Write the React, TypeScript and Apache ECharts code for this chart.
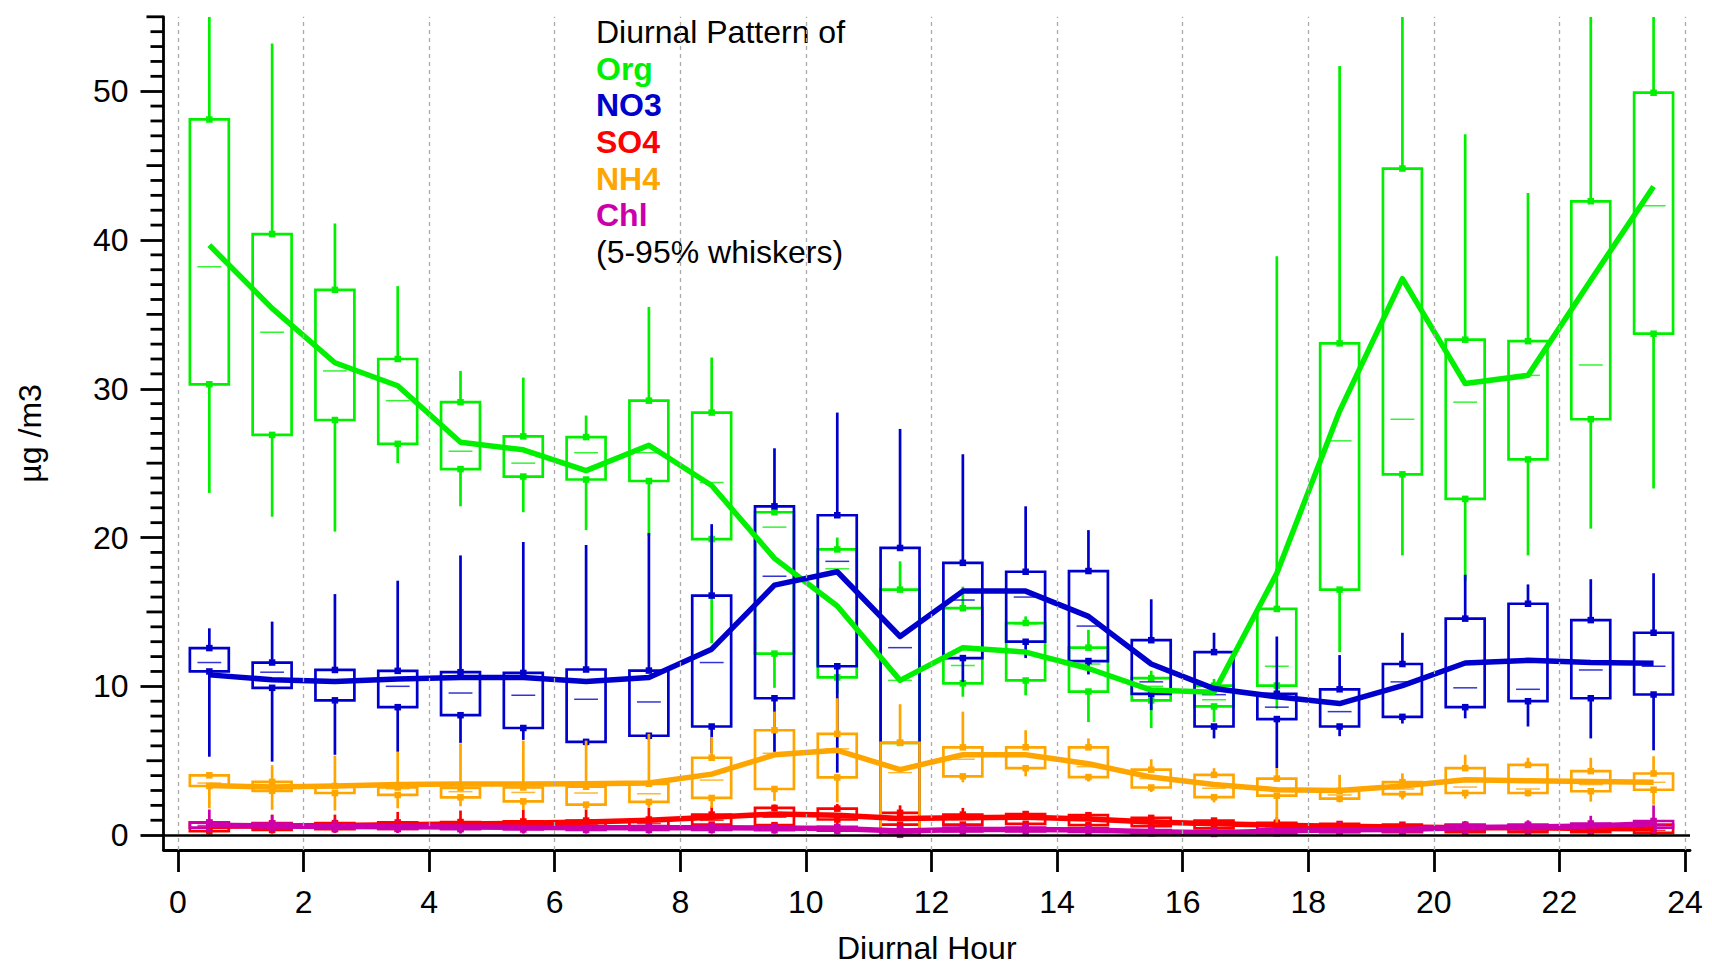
import React, { useEffect, useRef } from "react";
import * as echarts from "echarts";

const HOURS = [0.5, 1.5, 2.5, 3.5, 4.5, 5.5, 6.5, 7.5, 8.5, 9.5, 10.5, 11.5, 12.5, 13.5, 14.5, 15.5, 16.5, 17.5, 18.5, 19.5, 20.5, 21.5, 22.5, 23.5];
const X_TICKS = [0, 2, 4, 6, 8, 10, 12, 14, 16, 18, 20, 22, 24];
const Y_MAJOR = [0, 10, 20, 30, 40, 50];
const Y_MID = [5, 15, 25, 35, 45, 55];
const Y_MINOR = [1, 2, 3, 4, 6, 7, 8, 9, 11, 12, 13, 14, 16, 17, 18, 19, 21, 22, 23, 24, 26, 27, 28, 29, 31, 32, 33, 34, 36, 37, 38, 39, 41, 42, 43, 44, 46, 47, 48, 49, 51, 52, 53, 54];

// Org
const ORG_P5 = [23.0, 21.4, 20.4, 25.0, 22.1, 21.7, 20.5, 20.1, 12.9, 9.9, 9.5, 6.0, 9.3, 9.4, 7.6, 7.2, 7.6, 8.5, 12.3, 18.8, 17.1, 18.8, 20.6, 23.3];
const ORG_P25 = [30.3, 26.9, 27.9, 26.3, 24.6, 24.1, 23.9, 23.8, 19.9, 12.2, 10.6, 6.2, 10.2, 10.4, 9.65, 9.05, 8.65, 10.05, 16.5, 24.25, 22.6, 25.25, 27.95, 33.7];
const ORG_MED = [38.2, 33.8, 31.2, 29.2, 25.8, 25.0, 25.7, 25.7, 23.7, 20.7, 17.9, 10.4, 11.4, 14.2, 11.5, 10.0, 9.1, 11.35, 26.5, 27.95, 29.1, 30.9, 31.6, 42.3];
const ORG_P75 = [48.1, 40.4, 36.65, 32.0, 29.1, 26.8, 26.75, 29.2, 28.4, 21.7, 19.2, 16.5, 15.25, 14.25, 12.6, 10.55, 10.05, 15.2, 33.05, 44.8, 33.3, 33.2, 42.6, 49.9];
const ORG_P95 = [60, 53.2, 41.1, 36.9, 31.2, 30.75, 28.2, 35.5, 32.1, 22.5, 20.0, 18.4, 16.7, 14.7, 13.8, 11.05, 10.5, 38.9, 51.7, 60, 47.1, 43.15, 60, 60];
const ORG_MEAN = [39.65, 35.4, 31.75, 30.2, 26.4, 25.9, 24.5, 26.2, 23.5, 18.6, 15.4, 10.4, 12.6, 12.3, 11.2, 9.75, 9.6, 17.6, 28.5, 37.4, 30.35, 30.9, 37.3, 43.6];

// NO3
const NO3_P5 = [5.27, 4.94, 5.4, 5.6, 6.2, 6.4, 6.0, 6.4, 5.5, 5.6, 4.2, 0.1, 10.3, 11.9, 10.8, 8.4, 6.5, 4.5, 6.65, 7.5, 7.85, 7.3, 6.5, 5.7];
const NO3_P25 = [11.0, 9.9, 9.06, 8.6, 8.06, 7.2, 6.27, 6.68, 7.3, 9.2, 11.35, 0.3, 11.9, 13.0, 11.7, 9.5, 7.3, 7.8, 7.3, 7.95, 8.6, 9.0, 9.2, 9.45];
const NO3_MED = [11.6, 10.95, 10.4, 10.0, 9.55, 9.4, 9.13, 8.95, 11.6, 17.4, 18.4, 12.6, 15.8, 16.0, 14.05, 10.3, 9.44, 8.6, 8.3, 10.3, 9.9, 9.8, 11.1, 11.35];
const NO3_P75 = [12.57, 11.6, 11.1, 11.04, 10.95, 10.9, 11.13, 11.06, 16.1, 22.1, 21.5, 19.3, 18.3, 17.7, 17.75, 13.1, 12.3, 9.5, 9.8, 11.5, 14.55, 15.55, 14.45, 13.6];
const NO3_P95 = [13.9, 14.35, 16.2, 17.1, 18.8, 19.7, 19.5, 20.3, 20.9, 26.0, 28.4, 27.3, 25.6, 22.1, 20.5, 15.85, 13.6, 13.35, 12.1, 13.6, 17.5, 16.85, 17.2, 17.6];
const NO3_MEAN = [10.77, 10.44, 10.33, 10.5, 10.6, 10.6, 10.33, 10.6, 12.5, 16.8, 17.7, 13.35, 16.4, 16.4, 14.7, 11.5, 9.85, 9.3, 8.84, 10.05, 11.57, 11.75, 11.6, 11.55];

// SO4
const SO4_P5 = [0.05, 0.1, 0.15, 0.15, 0.15, 0.15, 0.15, 0.2, 0.3, 0.4, 0.5, 0.3, 0.5, 0.5, 0.5, 0.4, 0.3, 0.1, 0.05, 0.05, 0.05, 0.05, 0.0, 0.0];
const SO4_P25 = [0.27, 0.35, 0.4, 0.42, 0.45, 0.48, 0.5, 0.55, 0.71, 0.67, 1.05, 0.7, 0.71, 0.76, 0.67, 0.6, 0.45, 0.27, 0.2, 0.2, 0.2, 0.2, 0.2, 0.15];
const SO4_MED = [0.55, 0.55, 0.58, 0.6, 0.62, 0.66, 0.7, 0.78, 1.0, 1.2, 1.3, 1.0, 1.05, 1.1, 1.0, 0.85, 0.7, 0.55, 0.45, 0.4, 0.38, 0.36, 0.34, 0.32];
const SO4_P75 = [0.83, 0.8, 0.8, 0.85, 0.88, 0.92, 0.98, 1.05, 1.38, 1.83, 1.78, 1.5, 1.38, 1.42, 1.34, 1.16, 0.98, 0.83, 0.75, 0.7, 0.7, 0.65, 0.6, 0.7];
const SO4_P95 = [0.9, 1.38, 1.38, 1.56, 1.65, 1.72, 1.72, 1.83, 1.94, 2.05, 2.09, 2.0, 1.83, 1.6, 1.45, 1.3, 1.05, 1.2, 0.8, 0.8, 0.8, 0.85, 0.9, 0.9];
const SO4_MEAN = [0.6, 0.62, 0.64, 0.7, 0.74, 0.8, 0.88, 1.0, 1.2, 1.42, 1.34, 1.12, 1.16, 1.2, 1.09, 0.89, 0.76, 0.67, 0.6, 0.54, 0.49, 0.49, 0.45, 0.42];

// NH4
const NH4_P5 = [1.8, 1.7, 1.65, 1.8, 1.94, 1.7, 1.7, 1.83, 1.83, 2.3, 2.2, 0.0, 3.55, 3.95, 3.6, 2.9, 2.2, 0.8, 2.2, 2.4, 2.45, 2.6, 2.25, 2.05];
const NH4_P25 = [3.3, 2.98, 2.83, 2.7, 2.54, 2.27, 2.05, 2.23, 2.5, 3.1, 3.88, 0.05, 3.95, 4.5, 3.9, 3.2, 2.55, 2.65, 2.45, 2.76, 2.83, 2.83, 2.95, 3.05];
const NH4_MED = [3.5, 3.3, 3.25, 3.12, 2.92, 2.87, 2.83, 2.78, 3.7, 5.5, 5.8, 4.2, 5.1, 5.3, 4.6, 3.8, 3.15, 3.05, 2.7, 3.1, 3.23, 3.1, 3.4, 3.55];
const NH4_P75 = [4.02, 3.58, 3.3, 3.2, 3.17, 3.2, 3.25, 3.45, 5.2, 7.05, 6.8, 6.2, 5.9, 5.9, 5.9, 4.4, 4.05, 3.8, 2.98, 3.56, 4.5, 4.72, 4.3, 4.14];
const NH4_P95 = [4.2, 4.7, 5.34, 5.6, 6.17, 6.35, 6.35, 6.8, 6.6, 8.3, 9.2, 8.8, 8.3, 7.05, 6.5, 5.1, 4.5, 4.5, 4.05, 4.15, 5.4, 5.2, 5.2, 5.3];
const NH4_MEAN = [3.34, 3.23, 3.3, 3.4, 3.43, 3.43, 3.45, 3.5, 4.1, 5.4, 5.7, 4.4, 5.4, 5.4, 4.8, 3.9, 3.4, 3.05, 3.0, 3.3, 3.72, 3.65, 3.6, 3.56];

// Chl
const CHL_P5 = [0.2, 0.2, 0.15, 0.15, 0.1, 0.1, 0.1, 0.1, 0.1, 0.1, 0.05, 0.0, 0.05, 0.05, 0.05, 0.0, 0.0, 0.0, 0.05, 0.05, 0.1, 0.1, 0.1, 0.15];
const CHL_P25 = [0.5, 0.48, 0.45, 0.42, 0.4, 0.38, 0.35, 0.35, 0.35, 0.33, 0.3, 0.02, 0.25, 0.25, 0.22, 0.12, 0.08, 0.12, 0.22, 0.25, 0.35, 0.38, 0.42, 0.5];
const CHL_MED = [0.65, 0.6, 0.56, 0.53, 0.52, 0.5, 0.47, 0.46, 0.46, 0.45, 0.42, 0.15, 0.35, 0.35, 0.32, 0.2, 0.14, 0.22, 0.32, 0.36, 0.48, 0.5, 0.58, 0.7];
const CHL_P75 = [0.85, 0.78, 0.72, 0.68, 0.66, 0.63, 0.6, 0.6, 0.6, 0.58, 0.55, 0.37, 0.5, 0.5, 0.46, 0.33, 0.25, 0.38, 0.48, 0.52, 0.65, 0.7, 0.78, 0.95];
const CHL_P95 = [1.72, 1.35, 1.1, 1.0, 0.95, 0.9, 0.85, 0.85, 0.85, 0.8, 0.75, 0.7, 0.75, 0.75, 0.7, 0.6, 0.5, 0.8, 0.9, 0.85, 0.95, 1.0, 1.3, 2.0];
const CHL_MEAN = [0.67, 0.62, 0.58, 0.56, 0.54, 0.52, 0.49, 0.49, 0.49, 0.48, 0.45, 0.27, 0.38, 0.38, 0.34, 0.22, 0.16, 0.27, 0.36, 0.38, 0.51, 0.54, 0.62, 0.76];

const SPECIES = [
  { name: "Org", color: "#00F000", p5: ORG_P5, p25: ORG_P25, med: ORG_MED, p75: ORG_P75, p95: ORG_P95, mean: ORG_MEAN },
  { name: "NO3", color: "#0000CC", p5: NO3_P5, p25: NO3_P25, med: NO3_MED, p75: NO3_P75, p95: NO3_P95, mean: NO3_MEAN },
  { name: "SO4", color: "#FF0000", p5: SO4_P5, p25: SO4_P25, med: SO4_MED, p75: SO4_P75, p95: SO4_P95, mean: SO4_MEAN },
  { name: "NH4", color: "#FFA500", p5: NH4_P5, p25: NH4_P25, med: NH4_MED, p75: NH4_P75, p95: NH4_P95, mean: NH4_MEAN },
  { name: "Chl", color: "#CC00AA", p5: CHL_P5, p25: CHL_P25, med: CHL_MED, p75: CHL_P75, p95: CHL_P95, mean: CHL_MEAN },
];
const DRAW_ORDER = ["Org", "NO3", "SO4", "NH4", "Chl"];

const FONT = "'Liberation Sans', Arial, Helvetica, sans-serif";
const Y_MAX = 55;
const Y_MIN = -1;
const X_MIN = -0.23;
const X_MAX = 24.08;

const GRID_TOP = 16.8;
const GRID_BOTTOM = 113;
const TICK_W = 2.8;

function makeBoxSeries(sp: any) {
  const color = sp.color;
  return {
    type: "custom",
    name: sp.name + " box",
    clip: true,
    z: 3,
    data: HOURS.map((h, i) => [h, sp.p5[i], sp.p25[i], sp.med[i], sp.p75[i], sp.p95[i]]),
    renderItem: (params: any, api: any) => {
      const x = api.value(0);
      const cl = (v: number) => Math.min(Math.max(v, Y_MIN), Y_MAX);
      const c5 = api.coord([x, cl(api.value(1))]);
      const c25 = api.coord([x, cl(api.value(2))]);
      const cm = api.coord([x, cl(api.value(3))]);
      const c75 = api.coord([x, cl(api.value(4))]);
      const c95 = api.coord([x, cl(api.value(5))]);
      const cx = c5[0];
      const half = api.size([0.62, 0])[0] / 2;
      const medHalf = api.size([0.38, 0])[0] / 2;
      const lw = 2.7;
      const sq = 6.5;
      return {
        type: "group",
        children: [
          { type: "line", shape: { x1: cx, y1: c95[1], x2: cx, y2: c75[1] }, style: { stroke: color, lineWidth: lw } },
          { type: "line", shape: { x1: cx, y1: c25[1], x2: cx, y2: c5[1] }, style: { stroke: color, lineWidth: lw } },
          { type: "rect", shape: { x: cx - half, y: c75[1], width: 2 * half, height: c25[1] - c75[1] }, style: { fill: "none", stroke: color, lineWidth: lw } },
          { type: "line", shape: { x1: cx - medHalf, y1: cm[1], x2: cx + medHalf, y2: cm[1] }, style: { stroke: color, lineWidth: 1.5, opacity: 0.8 } },
          { type: "rect", shape: { x: cx - sq / 2, y: c75[1] - sq / 2, width: sq, height: sq }, style: { fill: color } },
          { type: "rect", shape: { x: cx - sq / 2, y: c25[1] - sq / 2, width: sq, height: sq }, style: { fill: color } },
        ],
      };
    },
  };
}

function makeMeanSeries(sp: any) {
  return {
    type: "line",
    name: sp.name + " mean",
    data: HOURS.map((h, i) => [h, sp.mean[i]]),
    symbol: "none",
    z: 4,
    lineStyle: { color: sp.color, width: 5.5, join: "round" },
  };
}

export default function App() {
  const ref = useRef<HTMLDivElement>(null);
  useEffect(() => {
    if (!ref.current) return;
    const chart = echarts.init(ref.current, undefined, { renderer: "svg" });
    const series: any[] = [];
    series.push({
      type: "line",
      name: "grid",
      data: [],
      silent: true,
      z: 1,
      markLine: {
        silent: true,
        symbol: "none",
        label: { show: false },
        animation: false,
        lineStyle: { color: "#aaaaaa", width: 1.3, type: [4, 4] },
        data: X_TICKS.map((t) => ({ xAxis: t })),
      },
    });
    series.push({
      type: "line",
      name: "zero",
      data: [],
      silent: true,
      z: 2,
      markLine: {
        silent: true,
        symbol: "none",
        label: { show: false },
        animation: false,
        lineStyle: { color: "#000000", width: 2.5, type: "solid" },
        data: [{ yAxis: 0 }],
      },
    });
    DRAW_ORDER.forEach((n) => {
      const sp = SPECIES.find((s) => s.name === n)!;
      series.push(makeBoxSeries(sp));
      series.push(makeMeanSeries(sp));
    });
    // y ticks: minor every 1 (short), 5s (medium), placed through the y scale
    series.push({
      type: "custom",
      name: "yTicks",
      clip: false,
      silent: true,
      z: 20,
      data: Y_MINOR.map((v) => [X_MIN, v, 13]).concat(Y_MID.map((v) => [X_MIN, v, 17])),
      renderItem: (params: any, api: any) => {
        const p = api.coord([api.value(0), api.value(1)]);
        const len = api.value(2);
        return {
          type: "line",
          shape: { x1: p[0] - len, y1: p[1], x2: p[0], y2: p[1] },
          style: { stroke: "#000000", lineWidth: TICK_W },
        };
      },
    });

    chart.setOption({
      animation: false,
      backgroundColor: "#ffffff",
      textStyle: { fontFamily: FONT },
      grid: { left: 163.5, right: 22, top: GRID_TOP, bottom: GRID_BOTTOM, containLabel: false },
      xAxis: {
        type: "value",
        min: X_MIN,
        max: X_MAX,
        position: "bottom",
        axisLine: { show: true, onZero: false, lineStyle: { color: "#000", width: TICK_W } },
        axisTick: { show: true, customValues: X_TICKS, length: 22, lineStyle: { color: "#000", width: TICK_W } },
        axisLabel: { show: true, customValues: X_TICKS, color: "#000", fontSize: 32, fontFamily: FONT, margin: 36 },
        splitLine: { show: false },
        name: "Diurnal Hour",
        nameLocation: "middle",
        nameGap: 82,
        nameTextStyle: { color: "#000", fontSize: 32, fontFamily: FONT },
      },
      yAxis: {
        type: "value",
        min: Y_MIN,
        max: Y_MAX,
        position: "left",
        splitLine: { show: false },
        axisLine: { show: true, onZero: false, lineStyle: { color: "#000", width: TICK_W } },
        axisTick: { show: true, customValues: Y_MAJOR, length: 23, lineStyle: { color: "#000", width: TICK_W } },
        axisLabel: { show: true, customValues: Y_MAJOR, color: "#000", fontSize: 32, fontFamily: FONT, margin: 35 },
        name: "µg /m3",
        nameLocation: "middle",
        nameGap: 118,
        nameRotate: 90,
        nameTextStyle: { color: "#000", fontSize: 32, fontFamily: FONT },
      },
      graphic: [
        { type: "text", left: 596, top: 16, style: { text: "Diurnal Pattern of", fill: "#000", font: `32px ${FONT}` } },
        { type: "text", left: 596, top: 53, style: { text: "Org", fill: "#00F000", font: `bold 32px ${FONT}` } },
        { type: "text", left: 596, top: 89, style: { text: "NO3", fill: "#0000CC", font: `bold 32px ${FONT}` } },
        { type: "text", left: 596, top: 126, style: { text: "SO4", fill: "#FF0000", font: `bold 32px ${FONT}` } },
        { type: "text", left: 596, top: 163, style: { text: "NH4", fill: "#FFA500", font: `bold 32px ${FONT}` } },
        { type: "text", left: 596, top: 199, style: { text: "Chl", fill: "#CC00AA", font: `bold 32px ${FONT}` } },
        { type: "text", left: 596, top: 236, style: { text: "(5-95% whiskers)", fill: "#000", font: `32px ${FONT}` } },
      ],
      series,
    });
    return () => chart.dispose();
  }, []);
  return <div ref={ref} style={{ position: "absolute", left: 0, top: 0, width: 1712, height: 969 }} />;
}
